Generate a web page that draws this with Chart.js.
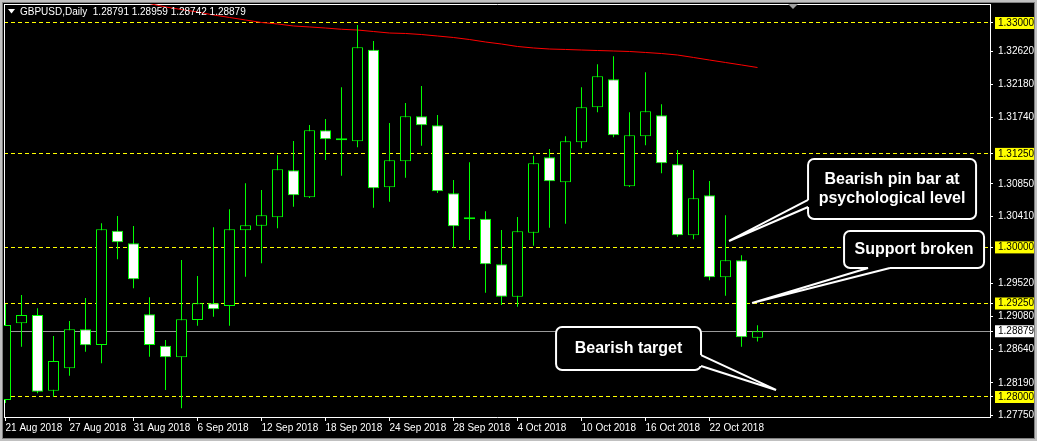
<!DOCTYPE html>
<html>
<head>
<meta charset="utf-8">
<title>GBPUSD Daily</title>
<script src="https://cdn.jsdelivr.net/npm/chart.js@4.4.1/dist/chart.umd.min.js"></script>
<style>
  html, body { margin: 0; padding: 0; background: #c0c0c0; }
  #frame { position: absolute; left: 2px; top: 2px; width: 1031px; height: 435px; border: 1px solid #808080; background: #000; }
  canvas { display: block; }
</style>
</head>
<body>
<div id="frame"><canvas id="fxChart" width="1031" height="435"></canvas></div>
<script>
// daily bars, 21 Aug 2018 .. 25 Oct 2018
const dates = [
    '21 Aug 2018', '22 Aug 2018', '23 Aug 2018', '24 Aug 2018', '27 Aug 2018', '28 Aug 2018', '29 Aug 2018', '30 Aug 2018', '31 Aug 2018',
    '3 Sep 2018', '4 Sep 2018', '5 Sep 2018', '6 Sep 2018', '7 Sep 2018', '10 Sep 2018', '11 Sep 2018', '12 Sep 2018', '13 Sep 2018',
    '14 Sep 2018', '17 Sep 2018', '18 Sep 2018', '19 Sep 2018', '20 Sep 2018', '21 Sep 2018', '24 Sep 2018', '25 Sep 2018', '26 Sep 2018',
    '27 Sep 2018', '28 Sep 2018', '1 Oct 2018', '2 Oct 2018', '3 Oct 2018', '4 Oct 2018', '5 Oct 2018', '8 Oct 2018', '9 Oct 2018',
    '10 Oct 2018', '11 Oct 2018', '12 Oct 2018', '15 Oct 2018', '16 Oct 2018', '17 Oct 2018', '18 Oct 2018', '19 Oct 2018', '22 Oct 2018',
    '23 Oct 2018', '24 Oct 2018', '25 Oct 2018'
];

const open = [
    1.27960, 1.28985, 1.29096, 1.28084, 1.28384, 1.28905, 1.28695, 1.30223, 1.30055, 1.29106,
    1.28686, 1.28531, 1.29029, 1.29253, 1.29217, 1.30229, 1.30290, 1.30402, 1.31031, 1.30670,
    1.31566, 1.31440, 1.31418, 1.32643, 1.30803, 1.31151, 1.31753, 1.31632, 1.30723, 1.30380,
    1.30384, 1.29774, 1.29341, 1.30197, 1.31205, 1.30870, 1.31405, 1.31873, 1.32247, 1.30817,
    1.31485, 1.31766, 1.31111, 1.30162, 1.30697, 1.29600, 1.29828, 1.28791
];
const high = [
    1.29243, 1.29364, 1.29186, 1.28816, 1.29016, 1.29324, 1.30322, 1.30420, 1.30286, 1.29333,
    1.28762, 1.29832, 1.29618, 1.30269, 1.30509, 1.30857, 1.30767, 1.31231, 1.31422, 1.31636,
    1.31717, 1.32140, 1.32973, 1.32759, 1.31663, 1.31930, 1.32158, 1.31770, 1.30901, 1.31138,
    1.30483, 1.30233, 1.30406, 1.31226, 1.31316, 1.31485, 1.32140, 1.32448, 1.32555, 1.31806,
    1.32341, 1.31913, 1.31302, 1.31035, 1.30888, 1.30429, 1.29894, 1.28959
];
const low = [
    1.27920, 1.28672, 1.28049, 1.28004, 1.28285, 1.28606, 1.28450, 1.29841, 1.29453, 1.28539,
    1.28094, 1.27849, 1.28953, 1.29074, 1.28953, 1.29608, 1.29787, 1.30255, 1.30544, 1.30660,
    1.31168, 1.30959, 1.31338, 1.30531, 1.30611, 1.30932, 1.31360, 1.30727, 1.29996, 1.30099,
    1.29394, 1.29230, 1.29207, 1.30023, 1.30263, 1.30317, 1.31325, 1.31806, 1.31472, 1.30807,
    1.31365, 1.30991, 1.30143, 1.30108, 1.29560, 1.29354, 1.28672, 1.28742
];
const close = [
    1.28963, 1.29096, 1.28071, 1.28481, 1.28905, 1.28691, 1.30242, 1.30068, 1.29573, 1.28695,
    1.28531, 1.29039, 1.29253, 1.29172, 1.30242, 1.30295, 1.30429, 1.31044, 1.30697, 1.31566,
    1.31445, 1.31434, 1.32675, 1.30790, 1.31164, 1.31753, 1.31632, 1.30750, 1.30282, 1.30376,
    1.29774, 1.29341, 1.30215, 1.31124, 1.30884, 1.31418, 1.31873, 1.32287, 1.31499, 1.31499,
    1.31820, 1.31124, 1.30162, 1.30656, 1.29600, 1.29828, 1.28798, 1.28879
];

// red moving average (off the top of the chart before 3 Sep)
const ma = [
    null, null, null, null, null, null, null, null, null, 1.33260,
    1.33214, 1.33180, 1.33147, 1.33107, 1.33074, 1.33040, 1.33007, 1.32987, 1.32960, 1.32947,
    1.32933, 1.32916, 1.32906, 1.32886, 1.32866, 1.32860, 1.32846, 1.32826, 1.32806, 1.32779,
    1.32746, 1.32719, 1.32686, 1.32666, 1.32652, 1.32646, 1.32639, 1.32632, 1.32626, 1.32619,
    1.32606, 1.32592, 1.32572, 1.32539, 1.32505, 1.32472, 1.32439, 1.32405
];

const levels = [1.33000, 1.31250, 1.30000, 1.29250, 1.28000];
const bid = 1.28879;
const priceTicks = [1.32620, 1.32180, 1.31740, 1.30850, 1.30410, 1.29520, 1.29080, 1.28640, 1.28190, 1.27750];
const dateTicks = [0, 4, 8, 12, 16, 20, 24, 28, 32, 36, 40, 44];

const X_MIN = -0.09375, X_MAX = 61.53125;
const Y_MIN = 1.277326, Y_MAX = 1.332540;

const callouts = [
    { lines: ['Bearish pin bar at', 'psychological level'], box: [50.16, 60.66, 1.31182, 1.30380], edge: 'left', base: [1.30634, 1.30540], tip: [45.22, 1.30086] },
    { lines: ['Support broken'], box: [52.41, 61.16, 1.30219, 1.29725], edge: 'bottom', base: [53.91, 55.28], tip: [46.66, 1.29257] },
    { lines: ['Bearish target'], box: [34.41, 43.47, 1.28936, 1.28361], edge: 'right', base: [1.28561, 1.28414], tip: [48.16, 1.28094] }
];

const FAMILY = "'Liberation Sans', Arial, sans-serif";
const font = { family: FAMILY, size: 10 };
const idx = close.map((_, i) => i);
const last = close.length - 1;
const title = 'GBPUSD,Daily  ' + [open[last], high[last], low[last], close[last]].map(v => v.toFixed(5)).join(' ');

const overlay = {
    id: 'overlay',
    afterDraw(chart) {
        const { ctx, chartArea: a, scales } = chart;
        const sx = scales.x, sy = scales.y;
        ctx.save();

        // header
        ctx.fillStyle = '#ffffff';
        ctx.beginPath();
        ctx.moveTo(a.left + 4, a.top + 5);
        ctx.lineTo(a.left + 11, a.top + 5);
        ctx.lineTo(a.left + 7.5, a.top + 9.5);
        ctx.closePath();
        ctx.fill();
        ctx.font = '10px ' + FAMILY;
        ctx.textBaseline = 'middle';
        ctx.textAlign = 'left';
        ctx.fillText(title, a.left + 16, a.top + 8);

        // chart shift marker
        ctx.fillStyle = '#a0a0a0';
        ctx.beginPath();
        ctx.moveTo(a.left + 784, a.top);
        ctx.lineTo(a.left + 794, a.top);
        ctx.lineTo(a.left + 789, a.top + 5);
        ctx.closePath();
        ctx.fill();

        // callouts
        callouts.forEach(c => {
            const x0 = sx.getPixelForValue(c.box[0]), x1 = sx.getPixelForValue(c.box[1]);
            const y0 = sy.getPixelForValue(c.box[2]), y1 = sy.getPixelForValue(c.box[3]);
            const tx = sx.getPixelForValue(c.tip[0]), ty = sy.getPixelForValue(c.tip[1]);
            let b1, b2, ix = 0, iy = 0;
            if (c.edge === 'left') {
                b1 = [x0, sy.getPixelForValue(c.base[0])]; b2 = [x0, sy.getPixelForValue(c.base[1])]; ix = 3;
            } else if (c.edge === 'right') {
                b1 = [x1, sy.getPixelForValue(c.base[0])]; b2 = [x1, sy.getPixelForValue(c.base[1])]; ix = -3;
            } else {
                b1 = [sx.getPixelForValue(c.base[0]), y1]; b2 = [sx.getPixelForValue(c.base[1]), y1]; iy = -3;
            }
            ctx.lineWidth = 2;
            ctx.strokeStyle = '#ffffff';
            ctx.fillStyle = '#000000';
            ctx.beginPath();
            ctx.roundRect(x0, y0, x1 - x0, y1 - y0, 6);
            ctx.fill();
            ctx.stroke();

            ctx.beginPath();
            ctx.moveTo(b1[0] + ix, b1[1] + iy);
            ctx.lineTo(b1[0], b1[1]);
            ctx.lineTo(tx, ty);
            ctx.lineTo(b2[0], b2[1]);
            ctx.lineTo(b2[0] + ix, b2[1] + iy);
            ctx.closePath();
            ctx.fill();
            ctx.beginPath();
            ctx.moveTo(b1[0], b1[1]);
            ctx.lineTo(tx, ty);
            ctx.lineTo(b2[0], b2[1]);
            ctx.stroke();

            ctx.fillStyle = '#ffffff';
            ctx.font = "bold 16px 'Liberation Sans', Arial, sans-serif";
            ctx.textAlign = 'center';
            ctx.textBaseline = 'middle';
            const cy = (y0 + y1) / 2, lh = 19;
            c.lines.forEach((t, k) => {
                ctx.fillText(t, (x0 + x1) / 2, cy + (k - (c.lines.length - 1) / 2) * lh);
            });
        });
        ctx.restore();
    }
};

const marked = v => levels.includes(v);
const yTickValues = [...priceTicks, ...levels, bid];

const noPad = s => { s.paddingTop = 0; s.paddingBottom = 0; s.paddingLeft = 0; s.paddingRight = 0; };

const edgeScale = (position) => ({
    type: 'linear', position: position,
    grid: { drawOnChartArea: false, drawTicks: false, color: 'rgba(0,0,0,0)' },
    border: { display: true, color: '#ffffff' },
    ticks: { display: false },
    afterFit: s => { if (position === 'top') s.height = 0; else s.width = 0; noPad(s); }
});

const ctx = document.getElementById('fxChart').getContext('2d');
let fxChart = new Chart(ctx, {
    type: 'bar',
    data: {
        datasets: [
            {
                label: 'Body', xAxisID: 'x', yAxisID: 'y',
                data: idx.map(i => ({ x: i, y: [open[i], close[i]] })),
                backgroundColor: idx.map(i => close[i] < open[i] ? '#ffffff' : '#000000'),
                borderColor: '#00ff00', borderWidth: 1, borderSkipped: false,
                barThickness: 11, minBarLength: 2, grouped: false, inflateAmount: 0, order: 1
            },
            {
                label: 'Wick', xAxisID: 'x', yAxisID: 'y',
                data: idx.map(i => ({ x: i, y: [low[i], high[i]] })),
                backgroundColor: '#00ff00', borderWidth: 0,
                barThickness: 1, grouped: false, inflateAmount: 0, order: 2
            },
            {
                type: 'line', label: 'MA', xAxisID: 'x', yAxisID: 'y',
                data: idx.filter(i => ma[i] !== null).map(i => ({ x: i, y: ma[i] })),
                borderColor: '#ff0000', borderWidth: 1, pointRadius: 0, order: 3
            }
        ]
    },
    options: {
        responsive: false,
        animation: false,
        devicePixelRatio: 1,
        layout: { padding: { left: 1, top: 1, right: 0, bottom: 0 } },
        plugins: { legend: { display: false }, tooltip: { enabled: false } },
        scales: {
            x: {
                type: 'linear', position: 'bottom', min: X_MIN, max: X_MAX, offset: false,
                grid: { offset: false, drawOnChartArea: false, drawTicks: true, tickLength: 4, color: '#ffffff' },
                border: { display: true, color: '#ffffff' },
                ticks: { color: '#ffffff', font: font, align: 'start', padding: 1, maxRotation: 0, autoSkip: false,
                    callback: v => dates[v] },
                afterBuildTicks: s => { s.ticks = dateTicks.map(v => ({ value: v })); },
                afterFit: s => { s.height = 21; noPad(s); }
            },
            y: {
                type: 'linear', position: 'right', min: Y_MIN, max: Y_MAX, beginAtZero: false,
                grid: {
                    drawOnChartArea: true, drawTicks: true, tickLength: 3,
                    color: c => marked(c.tick.value) ? '#ffff00' : (c.tick.value === bid ? '#9a9a9a' : 'rgba(0,0,0,0)'),
                    tickColor: '#ffffff'
                },
                border: {
                    display: true, color: '#ffffff',
                    dash: c => (c.tick && marked(c.tick.value)) ? [4, 3] : []
                },
                ticks: {
                    font: { family: FAMILY, size: 10, lineHeight: 1.2 },
                    padding: 5, autoSkip: false,
                    color: c => (marked(c.tick.value) || c.tick.value === bid) ? '#000000' : '#ffffff',
                    showLabelBackdrop: true,
                    backdropColor: c => marked(c.tick.value) ? '#ffff00' : (c.tick.value === bid ? '#ffffff' : 'rgba(0,0,0,0)'),
                    backdropPadding: { left: 3, right: 2, top: 0, bottom: 0 },
                    callback: v => v.toFixed(5)
                },
                afterBuildTicks: s => { s.ticks = yTickValues.map(v => ({ value: v })); },
                afterFit: s => { s.width = 44; noPad(s); }
            },
            xTop: edgeScale('top'),
            yLeft: edgeScale('left')
        }
    },
    plugins: [overlay]
});
</script>
</body>
</html>
